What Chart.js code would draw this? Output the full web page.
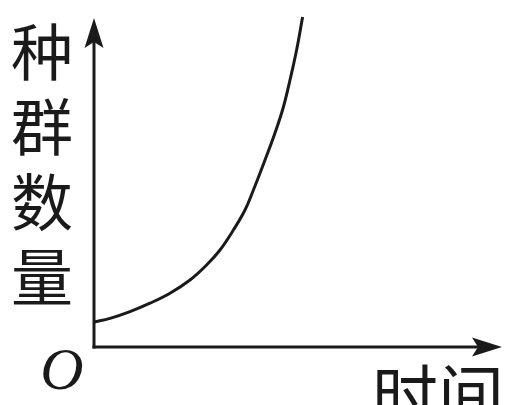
<!DOCTYPE html>
<html>
<head>
<meta charset="utf-8">
<script src="https://cdn.jsdelivr.net/npm/chart.js@4"></script>
<style>
  html, body { margin: 0; padding: 0; background: #fff; }
  #wrap { width: 520px; height: 405px; }
</style>
</head>
<body>
<div id="wrap"><canvas id="myChart"></canvas></div>
<script>
// values (time, population)
const timeValues = [0, 0.8, 1.8, 2.8, 3.8, 4.8, 5.63, 6.3, 6.97, 7.55, 7.97, 8.55, 9.05, 9.47, 9.8, 10.13, 10.43];
const populationValues = [1.25, 1.43, 1.77, 2.19, 2.69, 3.35, 4.1, 4.85, 5.85, 6.85, 7.85, 9.35, 10.7, 12.0, 13.35, 14.85, 16.5];
const yLabelChars = ["种", "群", "数", "量"];
const xLabel = "时间";
const originLabel = "O";

const ink = "#1a1a1a";

// axes with arrows plus the labels
const axesPlugin = {
  id: "axesArrows",
  afterDraw(chart) {
    const { ctx, chartArea } = chart;
    const x0 = chartArea.left;
    const y0 = chartArea.bottom;
    ctx.save();
    ctx.strokeStyle = ink;
    ctx.fillStyle = ink;
    ctx.lineWidth = 3;
    ctx.lineCap = "butt";

    // y axis
    ctx.beginPath();
    ctx.moveTo(x0, y0 + 1.5);
    ctx.lineTo(x0, 40);
    ctx.stroke();
    ctx.beginPath();
    ctx.moveTo(x0, 18);
    ctx.lineTo(x0 - 9.5, 48);
    ctx.lineTo(x0, 42);
    ctx.lineTo(x0 + 9.5, 48);
    ctx.closePath();
    ctx.fill();

    // x axis
    ctx.beginPath();
    ctx.moveTo(x0 - 1.5, y0);
    ctx.lineTo(495, y0);
    ctx.stroke();
    ctx.beginPath();
    ctx.moveTo(502, y0);
    ctx.lineTo(472, y0 - 9.5);
    ctx.lineTo(478, y0);
    ctx.lineTo(472, y0 + 9.5);
    ctx.closePath();
    ctx.fill();

    // vertical y label
    ctx.font = '62px "Noto Sans CJK SC"';
    ctx.textAlign = "center";
    ctx.textBaseline = "middle";
    yLabelChars.forEach((ch, i) => {
      ctx.fillText(ch, 42, 52 + i * 75);
    });

    // x label, cut by the bottom edge
    ctx.textAlign = "left";
    ctx.textBaseline = "top";
    ctx.font = '66px "Noto Sans CJK SC"';
    ctx.fillText(xLabel, 372, 362);

    // origin
    ctx.font = 'italic 60px "Liberation Serif"';
    ctx.textAlign = "center";
    ctx.textBaseline = "middle";
    ctx.fillText(originLabel, 62, 373);
    ctx.restore();
  },
};

const ctx = document.getElementById("myChart");
new Chart(ctx, {
  type: "scatter",
  data: {
    datasets: [
      {
        data: timeValues.map((t, i) => ({ x: t, y: populationValues[i] })),
        showLine: true,
        borderColor: ink,
        borderWidth: 3,
        pointRadius: 0,
        tension: 0.4,
        clip: false,
      },
    ],
  },
  options: {
    responsive: true,
    maintainAspectRatio: false,
    animation: false,
    layout: { padding: { left: 94, right: 20, top: 15, bottom: 58 } },
    plugins: { legend: { display: false }, tooltip: { enabled: false } },
    scales: {
      x: { type: "linear", display: false, min: 0, max: 20.3 },
      y: { type: "linear", display: false, min: 0, max: 16.6 },
    },
  },
  plugins: [axesPlugin],
});
</script>
</body>
</html>
